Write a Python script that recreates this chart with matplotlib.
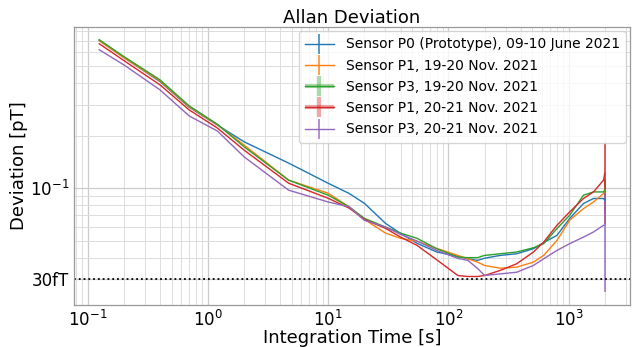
import matplotlib
matplotlib.use("Agg")
import matplotlib.pyplot as plt
from matplotlib.legend_handler import HandlerErrorbar

tau = [0.125, 0.2, 0.4, 0.7, 1.2, 2, 4.7, 10, 15, 20, 30, 40, 55, 80, 120, 145,
       175, 200, 270, 370, 510, 620, 800, 1020, 1330, 1610, 1950, 2000]

p0_jun = [0.7025, 0.561, 0.408, 0.291, 0.2301, 0.1845, 0.1392, 0.1068, 0.0932, 0.0820,
          0.0629, 0.0551, 0.0483, 0.0431, 0.0407, 0.0394, 0.0386, 0.0397, 0.0412, 0.0421,
          0.0450, 0.0488, 0.0537, 0.0670, 0.0817, 0.0873, 0.0873, 0.0853]
p1_19 = [0.700, 0.560, 0.412, 0.293, 0.231, 0.1767, 0.1112, 0.0936, 0.0781, 0.0663,
         0.0553, 0.0516, 0.0496, 0.0452, 0.0412, 0.0394, 0.0377, 0.0361, 0.0348, 0.0353,
         0.0377, 0.0412, 0.0502, 0.0655, 0.0764, 0.0834, 0.0932, 0.0974]
p3_19 = [0.709, 0.568, 0.4175, 0.296, 0.2323, 0.1727, 0.1112, 0.0912, 0.0781, 0.0672,
         0.0599, 0.0553, 0.0516, 0.0450, 0.0403, 0.0400, 0.0400, 0.0412, 0.0421, 0.0431,
         0.0456, 0.0481, 0.0587, 0.0700, 0.0912, 0.0952, 0.0952, 0.0974]
p1_20 = [0.672, 0.5391, 0.3908, 0.2808, 0.2212, 0.1653, 0.1068, 0.0876, 0.0768, 0.0663,
         0.0589, 0.0525, 0.0470, 0.0389, 0.0316, 0.0312, 0.0312, 0.0316, 0.0338, 0.0369,
         0.0431, 0.0491, 0.0613, 0.0731, 0.0873, 0.0952, 0.1112, 0.122]
p3_20 = [0.621, 0.5093, 0.3659, 0.2593, 0.2127, 0.1513, 0.0974, 0.0834, 0.0781, 0.0655,
         0.0599, 0.0544, 0.0498, 0.0440, 0.0396, 0.0386, 0.0347, 0.0316, 0.0323, 0.0330,
         0.0361, 0.0394, 0.0440, 0.0481, 0.0525, 0.0561, 0.0613, 0.0613]

# y error bars (zero except at the longest integration time)
err_p0_jun = [0]*27 + [0.012]
err_p1_19 = [0]*27 + [0.012]
err_p3_19 = [0]*27 + [0.015]
err_p1_20 = [0]*27 + [0.060]
err_p3_20 = [0]*27 + [0.036]

# x error bars present only for two of the runs (zero width)
xerr_p3_19 = [0]*28
xerr_p1_20 = [0]*28

labels = ["Sensor P0 (Prototype), 09-10 June 2021",
          "Sensor P1, 19-20 Nov. 2021",
          "Sensor P3, 19-20 Nov. 2021",
          "Sensor P1, 20-21 Nov. 2021",
          "Sensor P3, 20-21 Nov. 2021"]
series = [p0_jun, p1_19, p3_19, p1_20, p3_20]
errors = [err_p0_jun, err_p1_19, err_p3_19, err_p1_20, err_p3_20]
xerrors = [None, None, xerr_p3_19, xerr_p1_20, None]
colors = ["#1f77b4", "#ff7f0e", "#2ca02c", "#d62728", "#9467bd"]

limit_value = 0.03

fig = plt.figure(figsize=(6.32, 3.47), dpi=100)
ax = fig.add_axes([0.117, 0.121, 0.880, 0.801])

for y, e, xe, c, lab in zip(series, errors, xerrors, colors, labels):
    cont = ax.errorbar(tau, y, yerr=e, xerr=xe, color=c, ecolor=c, elinewidth=1.3,
                       linewidth=1.0, label=lab)
    bars = cont[2]
    if xe is not None:
        bars[0].set_alpha(0.4)
        bars[0].set_linewidth(3.0)
        bars[1].set_alpha(0.8)
    else:
        bars[0].set_alpha(0.8)

ax.set_xscale("log")
ax.set_yscale("log")
ax.axhline(limit_value, color="black", linestyle=":", linewidth=1.3)

ax.grid(True, which="major", color="#cccccc", linewidth=0.9)
ax.grid(True, which="minor", color="#dddddd", linewidth=0.7)
ax.tick_params(which="both", length=0, labelsize=12)
for s in ax.spines.values():
    s.set_color("#999999")
    s.set_linewidth(0.9)

ax.set_yticks([0.1, limit_value], ["$10^{-1}$", "30fT"])
ax.set_title("Allan Deviation", fontsize=13, pad=3)
ax.set_xlabel("Integration Time [s]", fontsize=13, labelpad=-1)
ax.set_ylabel("Deviation [pT]", fontsize=13, labelpad=1)
ax.legend(loc="upper right", fontsize=10, framealpha=0.8,
          handlelength=2.1, handletextpad=0.83, borderpad=0.45,
          labelspacing=0.52, borderaxespad=0.3,
          handler_map={type(ax.containers[0]): HandlerErrorbar(xerr_size=1.04, yerr_size=0.72)})

fig.savefig("out.png", dpi=100)
